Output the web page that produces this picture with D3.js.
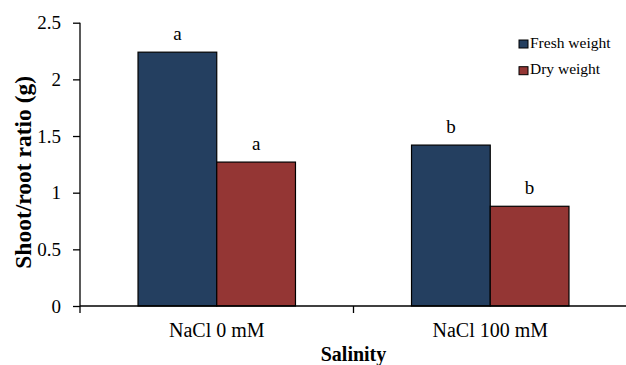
<!DOCTYPE html>
<html>
<head>
<meta charset="utf-8">
<script src="https://cdn.jsdelivr.net/npm/d3@7"></script>
<style>
  body { margin: 0; background: #fff; }
  text { font-family: "Liberation Serif", "Times New Roman", serif; fill: #000; }
</style>
</head>
<body>
<div id="chart"></div>
<script>
(function () {
    // data
    const categories = ["NaCl 0 mM", "NaCl 100 mM"];
    const seriesNames = ["Fresh weight", "Dry weight"];
    const freshValues = [2.24, 1.42];
    const dryValues = [1.27, 0.88];
    const freshLetters = ["a", "b"];
    const dryLetters = ["a", "b"];
    const yTicks = [0, 0.5, 1, 1.5, 2, 2.5];

    const colors = ["#243F60", "#943634"];

    const width = 626, height = 365;
    const margin = { left: 80, right: -1, top: 22.7, bottom: 59 };

    const svg = d3.select("#chart").append("svg")
        .attr("width", width)
        .attr("height", height);

    const rows = categories.map((c, i) => ({
        category: c,
        values: [
            { series: seriesNames[0], value: freshValues[i], letter: freshLetters[i] },
            { series: seriesNames[1], value: dryValues[i], letter: dryLetters[i] }
        ]
    }));

    const x0 = d3.scaleBand()
        .domain(categories)
        .range([margin.left, width - margin.right]);

    const x1 = d3.scaleBand()
        .domain(seriesNames)
        .range([0, x0.bandwidth()])
        .paddingInner(0)
        .paddingOuter(0.737);

    const y = d3.scaleLinear()
        .domain([0, 2.5])
        .range([height - margin.bottom, margin.top]);

    const color = d3.scaleOrdinal().domain(seriesNames).range(colors);

    // bars
    const groups = svg.selectAll(".grp")
        .data(rows)
        .enter().append("g")
        .attr("class", "grp")
        .attr("transform", d => `translate(${x0(d.category)},0)`);

    groups.selectAll("rect")
        .data(d => d.values)
        .enter().append("rect")
        .attr("x", d => x1(d.series))
        .attr("y", d => y(d.value))
        .attr("width", x1.bandwidth())
        .attr("height", d => y(0) - y(d.value))
        .attr("fill", d => color(d.series))
        .attr("stroke", "#000")
        .attr("stroke-width", 1.2);

    groups.selectAll(".lbl")
        .data(d => d.values)
        .enter().append("text")
        .attr("class", "lbl")
        .attr("x", d => x1(d.series) + x1.bandwidth() / 2)
        .attr("y", d => y(d.value) - 12.5)
        .attr("text-anchor", "middle")
        .style("font-size", "19px")
        .text(d => d.letter);

    // y axis
    const yAxis = svg.append("g")
        .attr("transform", `translate(${margin.left},0)`)
        .call(d3.axisLeft(y).tickValues(yTicks).tickFormat(d3.format("")).tickSize(7).tickPadding(12));
    yAxis.select(".domain").attr("stroke", "#000").attr("stroke-width", 1.3)
        .attr("d", `M0,${margin.top}V${y(0)}`);
    yAxis.selectAll(".tick line").attr("stroke", "#000").attr("stroke-width", 1.3);
    yAxis.selectAll(".tick text")
        .style("font-family", "Liberation Serif")
        .style("font-size", "19px")
        .attr("fill", "#000");

    // x axis
    const xAxis = svg.append("g")
        .attr("transform", `translate(0,${y(0)})`);
    xAxis.append("line")
        .attr("x1", margin.left).attr("x2", width)
        .attr("stroke", "#000").attr("stroke-width", 1.3);
    const bounds = categories.map(c => x0(c)).concat([x0.range()[1]]);
    xAxis.selectAll(".xt")
        .data(bounds)
        .enter().append("line")
        .attr("class", "xt")
        .attr("x1", d => d).attr("x2", d => d)
        .attr("y1", 0).attr("y2", 7)
        .attr("stroke", "#000").attr("stroke-width", 1.3);
    xAxis.selectAll(".xl")
        .data(categories)
        .enter().append("text")
        .attr("class", "xl")
        .attr("x", d => x0(d) + x0.bandwidth() / 2)
        .attr("y", 31)
        .attr("text-anchor", "middle")
        .style("font-size", "20px")
        .text(d => d);

    // axis titles
    svg.append("text")
        .attr("x", (margin.left + 627) / 2)
        .attr("y", 361)
        .attr("text-anchor", "middle")
        .style("font-size", "20px")
        .style("font-weight", "bold")
        .text("Salinity");

    svg.append("text")
        .attr("transform", `translate(31,${(y(0) + margin.top) / 2 + 8}) rotate(-90)`)
        .attr("text-anchor", "middle")
        .style("font-size", "23.5px")
        .style("font-weight", "bold")
        .text("Shoot/root ratio (g)");

    // legend
    const legend = svg.selectAll(".leg")
        .data(seriesNames)
        .enter().append("g")
        .attr("class", "leg")
        .attr("transform", (d, i) => `translate(519,${40 + i * 26.7})`);
    legend.append("rect")
        .attr("width", 9).attr("height", 8)
        .attr("fill", d => color(d))
        .attr("stroke", "#000").attr("stroke-width", 1);
    legend.append("text")
        .attr("x", 11)
        .attr("y", 7.5)
        .style("font-size", "15.5px")
        .text(d => d);
})();
</script>
</body>
</html>
